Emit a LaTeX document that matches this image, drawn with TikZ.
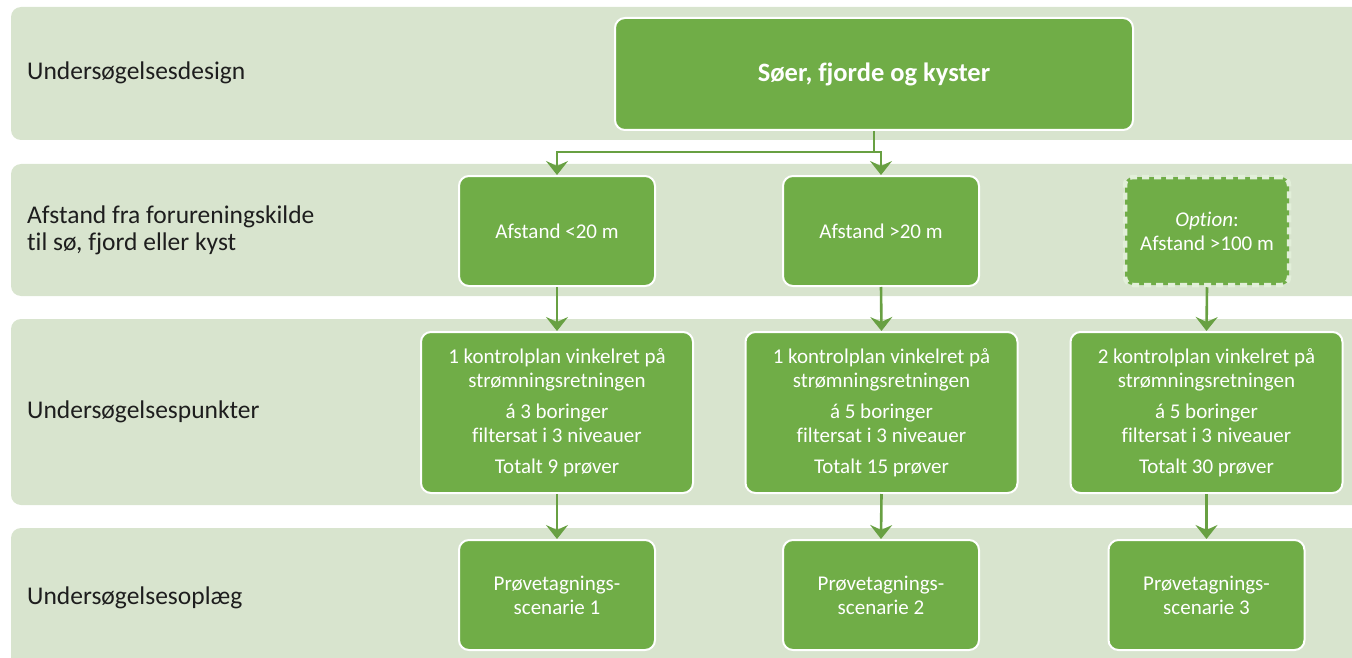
\documentclass[tikz,border=0pt]{standalone}
\usepackage{fontspec}
\setmainfont{Carlito}[Ligatures={NoCommon}]
\usetikzlibrary{arrows.meta}
\definecolor{bandc}{HTML}{D8E4CE}
\definecolor{grc}{HTML}{70AD47}
\definecolor{linec}{HTML}{68A042}
\definecolor{txtc}{HTML}{1E1E1E}
\definecolor{dashc}{HTML}{E2EFD9}
\tikzset{
  gbox/.style={draw=white, line width=2pt, fill=grc, rounded corners=10pt, text=white, align=center, inner sep=2pt,
    font=\fontsize{21}{24}\selectfont},
  dbox/.style={draw=dashc, line width=4.5pt, dash pattern=on 7pt off 5pt, fill=grc, rounded corners=8pt, text=white, align=center, inner sep=2pt,
    font=\fontsize{21}{24}\selectfont},
  rowlabel/.style={anchor=west, text=txtc, align=left, inner sep=0pt, font=\fontsize{25.5}{27}\selectfont},
  arr/.style={draw=linec, line width=2.6pt, -{Stealth[length=14pt,width=22pt,inset=5pt]}},
  bandfill/.style={fill=bandc, rounded corners=10pt}
}
\begin{document}
\begin{tikzpicture}[x=1pt,y=-1pt]
\useasboundingbox (0,0) rectangle (1352,658);
\begin{scope}
\clip (0,0) rectangle (1352,658);
\fill[bandfill] (11,7) rectangle (1375,140);
\fill[bandfill] (11,164) rectangle (1375,296);
\fill[bandfill] (11,319) rectangle (1375,505);
\fill[bandfill] (11,528) rectangle (1375,680);
\end{scope}

\node[rowlabel] (l1) at (27,73) {Undersøgelsesdesign};
\node[rowlabel] (l2) at (27,230) {Afstand fra forureningskilde\\til sø, fjord eller kyst};
\node[rowlabel] (l3) at (27,412) {Undersøgelsespunkter};
\node[rowlabel] (l4) at (27,598) {Undersøgelsesoplæg};

\node[gbox, minimum width=518pt, minimum height=112pt, font=\fontsize{26.5}{30}\bfseries\selectfont] (top) at (874,74) {Søer, fjorde og kyster};

\node[gbox, minimum width=196pt, minimum height=110pt] (r2a) at (557,231) {Afstand <20 m};
\node[gbox, minimum width=196pt, minimum height=110pt] (r2b) at (881,231) {Afstand >20 m};
\node[dbox, minimum width=164pt, minimum height=108pt] (r2c) at (1207,231) {\textit{Option}:\\Afstand >100 m};

\node[gbox, minimum width=272pt, minimum height=161pt] (r3a) at (557,412.5) {1 kontrolplan vinkelret på\\strømningsretningen\\[7pt]á 3 boringer\\filtersat i 3 niveauer\\[7pt]Totalt 9 prøver};
\node[gbox, minimum width=272pt, minimum height=161pt] (r3b) at (881.5,412.5) {1 kontrolplan vinkelret på\\strømningsretningen\\[7pt]á 5 boringer\\filtersat i 3 niveauer\\[7pt]Totalt 15 prøver};
\node[gbox, minimum width=272pt, minimum height=161pt] (r3c) at (1206.5,412.5) {2 kontrolplan vinkelret på\\strømningsretningen\\[7pt]á 5 boringer\\filtersat i 3 niveauer\\[7pt]Totalt 30 prøver};

\node[gbox, minimum width=196pt, minimum height=110pt] (r4a) at (557,595) {Prøvetagnings-\\scenarie 1};
\node[gbox, minimum width=196pt, minimum height=110pt] (r4b) at (881,595) {Prøvetagnings-\\scenarie 2};
\node[gbox, minimum width=196pt, minimum height=110pt] (r4c) at (1206.5,595) {Prøvetagnings-\\scenarie 3};

\coordinate (split) at ([yshift=-21pt]top.south);
\draw[draw=linec, line width=2.6pt] (top.south) -- (split);
\draw[arr] (split) -| (r2a.north);
\draw[arr] (split) -| (r2b.north);

\draw[arr] (r2a.south) -- (r3a.north);
\draw[arr] (r2b.south) -- (r3b.north);
\draw[arr] (r2c.south) -- (r3c.north);
\draw[arr] (r3a.south) -- (r4a.north);
\draw[arr] (r3b.south) -- (r4b.north);
\draw[arr] (r3c.south) -- (r4c.north);
\end{tikzpicture}
\end{document}
